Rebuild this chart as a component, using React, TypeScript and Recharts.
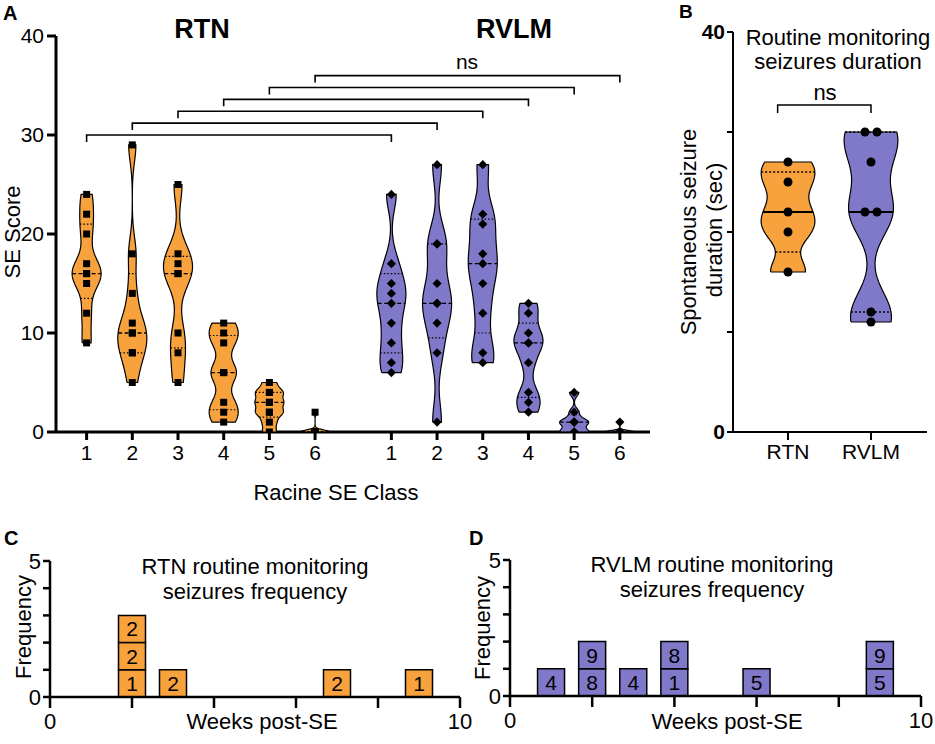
import React from 'react';
import { ComposedChart, Scatter, XAxis, YAxis, BarChart, Bar, LabelList } from 'recharts';

const ORANGE = '#F8A23E';
const PURPLE = '#8079C9';
const FONT = '"Liberation Sans", Arial, Helvetica, sans-serif';

// ---------- Panel A data ----------
const raceClasses = [1, 2, 3, 4, 5, 6];
const rtnScores = [
  [24, 22, 20, 17, 16, 16, 15, 12, 9],
  [29, 18, 14, 11, 10, 10, 8, 8, 5],
  [25, 18, 17, 16, 16, 10, 8, 5],
  [11, 10, 9, 6, 6, 3, 2, 1],
  [5, 4, 4, 3, 3, 2, 2, 1, 0],
  [2, 0, 0, 0, 0, 0, 0, 0],
];
const rvlmScores = [
  [24, 17, 15, 14, 13, 11, 9, 7, 6],
  [27, 19, 19, 15, 13, 13, 11, 8, 1],
  [27, 22, 21, 18, 17, 15, 12, 8, 7],
  [13, 12, 10, 9, 9, 7, 4, 3, 2],
  [4, 2, 1, 1, 1, 0, 0, 0],
  [1, 0, 0, 0, 0, 0, 0, 0],
];
const rvlmOffset = 6.67;
const bracketLevels = [30, 31.2, 32.4, 33.6, 34.8, 36];
const scoreTicks = [0, 10, 20, 30, 40];

// ---------- Panel B data ----------
const groupsB = ['RTN', 'RVLM'];
const durationB = [
  [27, 25, 22, 20, 16],
  [30, 30, 27, 22, 22, 12, 11],
];
const durationTicks = [0, 10, 20, 30, 40];
const durationTickLabels = ['0', '', '', '', '40'];
const bracketB = { from: 0.875, to: 2, level: 32.7 };

// ---------- Panel C / D data ----------
const cWeeks = [2, 3, 7, 9];
const cIds = [[1, 2, 2], [2], [2], [1]];
const dWeeks = [1, 2, 3, 4, 6, 9];
const dIds = [[4], [8, 9], [4], [1, 8], [5], [5, 9]];
const weekTicks = [0, 2, 4, 6, 8, 10];
const weekTickLabels = ['0', '', '', '', '', '10'];
const freqTicks = [0, 1, 2, 3, 4, 5];
const freqTickLabels = ['0', '', '', '', '', '5'];

// ---------- helpers ----------
function quantile(sorted: number[], q: number) {
  const n = sorted.length;
  let p = q * (n + 1);
  if (p < 1) p = 1;
  if (p > n) p = n;
  const lo = Math.floor(p);
  const frac = p - lo;
  const a = sorted[lo - 1];
  const b = sorted[Math.min(lo, n - 1)];
  return a + frac * (b - a);
}

function bandwidth(sorted: number[]) {
  const n = sorted.length;
  const mean = sorted.reduce((s, v) => s + v, 0) / n;
  const sd = Math.sqrt(sorted.reduce((s, v) => s + (v - mean) ** 2, 0) / (n - 1));
  const iqr = quantile(sorted, 0.75) - quantile(sorted, 0.25);
  let s = Math.min(sd, iqr / 1.34);
  if (!(s > 0)) s = sd;
  return Math.max(0.5 * 0.9 * s * Math.pow(n, -0.2), 0.15);
}

type P = { x: number; y: number };

function makeViolin(vals: number[], pos: number, halfW: number, steps = 90) {
  const sorted = [...vals].sort((a, b) => a - b);
  const lo = sorted[0];
  const hi = sorted[sorted.length - 1];
  const h = bandwidth(sorted);
  const dens = (y: number) => sorted.reduce((s, v) => s + Math.exp(-0.5 * ((y - v) / h) ** 2), 0);
  const ys: number[] = [];
  for (let i = 0; i <= steps; i++) ys.push(lo + ((hi - lo) * i) / steps);
  const ds = ys.map(dens);
  const dmax = Math.max(...ds);
  const w = (y: number) => halfW * Math.min(1, dens(y) / dmax);
  const left: P[] = ys.map((y, i) => ({ x: pos - (halfW * ds[i]) / dmax, y }));
  const right: P[] = ys.map((y, i) => ({ x: pos + (halfW * ds[i]) / dmax, y })).reverse();
  const outline = [...left, ...right, left[0]];
  const seg = (q: number): P[] => [
    { x: pos - w(q), y: q },
    { x: pos + w(q), y: q },
  ];
  return {
    outline,
    median: seg(quantile(sorted, 0.5)),
    quartiles: [seg(quantile(sorted, 0.25)), seg(quantile(sorted, 0.75))],
  };
}

const none = () => <g />;
const square = (p: any) => <rect x={p.cx - 3.5} y={p.cy - 3.5} width={7} height={7} fill="#000" />;
const diamond = (p: any) => {
  const r = 4.6;
  return (
    <polygon
      points={`${p.cx},${p.cy - r} ${p.cx + r},${p.cy} ${p.cx},${p.cy + r} ${p.cx - r},${p.cy}`}
      fill="#000"
    />
  );
};
const dot = (p: any) => <circle cx={p.cx} cy={p.cy} r={4.5} fill="#000" />;

function violinSeries(
  key: string,
  vals: number[],
  pos: number,
  halfW: number,
  fill: string,
  medianLine: any,
  quartLine: any,
  marker: any,
  points: P[]
) {
  const v = makeViolin(vals, pos, halfW);
  return [
    <Scatter
      key={key + 'o'}
      data={v.outline}
      shape={none}
      line={{ fill, stroke: '#000', strokeWidth: 1.2 }}
      lineType="joint"
      isAnimationActive={false}
    />,
    ...v.quartiles.map((q, i) => (
      <Scatter
        key={key + 'q' + i}
        data={q}
        shape={none}
        line={{ fill: 'none', stroke: '#000', ...quartLine }}
        lineType="joint"
        isAnimationActive={false}
      />
    )),
    <Scatter
      key={key + 'm'}
      data={v.median}
      shape={none}
      line={{ fill: 'none', stroke: '#000', ...medianLine }}
      lineType="joint"
      isAnimationActive={false}
    />,
    <Scatter key={key + 'p'} data={points} shape={marker} isAnimationActive={false} />,
  ];
}

function bracketSeries(key: string, from: number, to: number, level: number, drop: number, sw: number) {
  const pts: P[] = [
    { x: from, y: level - drop },
    { x: from, y: level },
    { x: to, y: level },
    { x: to, y: level - drop },
  ];
  return (
    <Scatter
      key={key}
      data={pts}
      shape={none}
      line={{ fill: 'none', stroke: '#000', strokeWidth: sw }}
      lineType="joint"
      isAnimationActive={false}
    />
  );
}

// ---------- Panel A ----------
function PanelA() {
  const rtnPos = raceClasses;
  const rvlmPos = raceClasses.map((c) => c + rvlmOffset);
  const ticks = [...rtnPos, ...rvlmPos];
  const tickLabels = [...raceClasses, ...raceClasses].map(String);
  const halfW = 0.318;
  const medianLine = { strokeWidth: 1.3, strokeDasharray: '4 2.5' };
  const quartLine = { strokeWidth: 1.2, strokeDasharray: '1.5 2' };
  const series: any[] = [];
  rtnScores.forEach((vals, i) => {
    series.push(
      ...violinSeries('rtn' + i, vals, rtnPos[i], halfW, ORANGE, medianLine, quartLine, square,
        vals.map((v) => ({ x: rtnPos[i], y: v })))
    );
  });
  rvlmScores.forEach((vals, i) => {
    series.push(
      ...violinSeries('rvlm' + i, vals, rvlmPos[i], halfW, PURPLE, medianLine, quartLine, diamond,
        vals.map((v) => ({ x: rvlmPos[i], y: v })))
    );
  });
  bracketLevels.forEach((lvl, i) => {
    series.push(bracketSeries('br' + i, rtnPos[i], rvlmPos[i], lvl, 0.7, 1.6));
  });
  return (
    <div style={{ position: 'absolute', left: 0, top: 0 }}>
      <ComposedChart width={660} height={510} margin={{ top: 36, right: 10, bottom: 48, left: 0 }}>
        <XAxis
          type="number"
          dataKey="x"
          domain={[0.33, 13.33]}
          allowDataOverflow
          ticks={ticks}
          interval={0}
          tickFormatter={(_v: any, i: number) => tickLabels[i]}
          height={30}
          axisLine={{ stroke: '#000', strokeWidth: 3 }}
          tickLine={{ stroke: '#000', strokeWidth: 3 }}
          tickSize={8}
          tickMargin={5}
          tick={{ fill: '#000', fontSize: 21, fontFamily: FONT }}
        />
        <YAxis
          type="number"
          dataKey="y"
          domain={[0, 40]}
          allowDataOverflow
          ticks={scoreTicks}
          interval={0}
          width={56}
          axisLine={{ stroke: '#000', strokeWidth: 3 }}
          tickLine={{ stroke: '#000', strokeWidth: 3 }}
          tickSize={9}
          tickMargin={3}
          tick={{ fill: '#000', fontSize: 21, fontFamily: FONT }}
        />
        {series}
      </ComposedChart>
    </div>
  );
}

// ---------- Panel B ----------
function PanelB() {
  const pos = [1, 2];
  const halfW = 0.324;
  const medianLine = { strokeWidth: 2 };
  const quartLine = { strokeWidth: 1.3, strokeDasharray: '2 2' };
  const series: any[] = [];
  durationB.forEach((vals, i) => {
    const counts: Record<number, number> = {};
    vals.forEach((v) => (counts[v] = (counts[v] || 0) + 1));
    const seen: Record<number, number> = {};
    const pts = vals.map((v) => {
      const k = seen[v] || 0;
      seen[v] = k + 1;
      const shift = counts[v] > 1 ? (k - (counts[v] - 1) / 2) * 0.145 : 0;
      return { x: pos[i] + shift, y: v };
    });
    series.push(
      ...violinSeries('b' + i, vals, pos[i], halfW, i === 0 ? ORANGE : PURPLE, medianLine, quartLine, dot, pts)
    );
  });
  series.push(bracketSeries('bb', bracketB.from, bracketB.to, bracketB.level, 0.8, 1.5));
  return (
    <div style={{ position: 'absolute', left: 640, top: 0 }}>
      <ComposedChart width={295} height={480} margin={{ top: 32, right: 8, bottom: 18, left: 0 }}>
        <XAxis
          type="number"
          dataKey="x"
          domain={[0.337, 2.675]}
          allowDataOverflow
          ticks={pos}
          interval={0}
          tickFormatter={(_v: any, i: number) => groupsB[i]}
          height={30}
          axisLine={{ stroke: '#000', strokeWidth: 2 }}
          tickLine={{ stroke: '#000', strokeWidth: 2 }}
          tickSize={8}
          tickMargin={4}
          tick={{ fill: '#000', fontSize: 21, fontFamily: FONT }}
        />
        <YAxis
          type="number"
          dataKey="y"
          domain={[0, 40]}
          allowDataOverflow
          ticks={durationTicks}
          interval={0}
          tickFormatter={(_v: any, i: number) => durationTickLabels[i]}
          width={93}
          axisLine={{ stroke: '#000', strokeWidth: 2 }}
          tickLine={{ stroke: '#000', strokeWidth: 2 }}
          tickSize={6}
          tickMargin={2}
          tick={{ fill: '#000', fontSize: 21, fontWeight: 'bold', fontFamily: FONT }}
        />
        {series}
      </ComposedChart>
    </div>
  );
}

// ---------- Panels C / D ----------
function buildRows(weeks: number[], ids: number[][]) {
  return weeks.map((w, i) => {
    const r: any = { week: w };
    ids[i].forEach((id, k) => {
      r['s' + k] = 1;
      r['id' + k] = id;
    });
    return r;
  });
}

function FreqPanel({
  left,
  width,
  weeks,
  ids,
  fill,
  yWidth,
  marginTop,
  marginRight,
}: {
  left: number;
  width: number;
  weeks: number[];
  ids: number[][];
  fill: string;
  yWidth: number;
  marginTop: number;
  marginRight: number;
}) {
  const rows = buildRows(weeks, ids);
  const depth = Math.max(...ids.map((s) => s.length));
  const levels = Array.from({ length: depth }, (_, k) => k);
  return (
    <div style={{ position: 'absolute', left, top: 500 }}>
      <BarChart
        width={width}
        height={244}
        data={rows}
        margin={{ top: marginTop, right: marginRight, bottom: 244 - marginTop - 136 - 30, left: 0 }}
      >
        <XAxis
          type="number"
          dataKey="week"
          domain={[0, 10]}
          allowDataOverflow
          ticks={weekTicks}
          interval={0}
          tickFormatter={(_v: any, i: number) => weekTickLabels[i]}
          height={30}
          axisLine={{ stroke: '#000', strokeWidth: 2.5 }}
          tickLine={{ stroke: '#000', strokeWidth: 2.5 }}
          tickSize={11}
          tickMargin={5}
          tick={{ fill: '#000', fontSize: 22, fontFamily: FONT }}
        />
        <YAxis
          type="number"
          domain={[0, 5]}
          allowDataOverflow
          ticks={freqTicks}
          interval={0}
          tickFormatter={(_v: any, i: number) => freqTickLabels[i]}
          width={yWidth}
          axisLine={{ stroke: '#000', strokeWidth: 2.5 }}
          tickLine={{ stroke: '#000', strokeWidth: 2.5 }}
          tickSize={7}
          tickMargin={2}
          tick={{ fill: '#000', fontSize: 22, fontFamily: FONT }}
        />
        {levels.map((k) => (
          <Bar
            key={'s' + k}
            dataKey={'s' + k}
            stackId="a"
            fill={fill}
            stroke="#000"
            strokeWidth={1.5}
            barSize={27}
            isAnimationActive={false}
          >
            <LabelList dataKey={'id' + k} position="center" fill="#000" fontSize={21} fontFamily={FONT} />
          </Bar>
        ))}
      </BarChart>
    </div>
  );
}

// ---------- Text overlay ----------
const T = ({ x, y, size, bold, anchor = 'middle', rotate, children }: any) => (
  <text
    x={rotate ? 0 : x}
    y={rotate ? 0 : y}
    transform={rotate ? `translate(${x},${y}) rotate(-90)` : undefined}
    fontSize={size}
    fontWeight={bold ? 'bold' : 'normal'}
    fontFamily={FONT}
    textAnchor={anchor}
    fill="#000"
  >
    {children}
  </text>
);

function Overlay() {
  return (
    <svg
      width={935}
      height={744}
      style={{ position: 'absolute', left: 0, top: 0, pointerEvents: 'none' }}
    >
      <T x={3} y={20} size={20} bold anchor="start">A</T>
      <T x={202} y={38} size={27} bold>RTN</T>
      <T x={514} y={38} size={27} bold>RVLM</T>
      <T x={467} y={69} size={21}>ns</T>
      <T x={20} y={232} size={22} rotate>SE Score</T>
      <T x={336} y={500} size={22}>Racine SE Class</T>

      <T x={679} y={18} size={19} bold anchor="start">B</T>
      <T x={838} y={45} size={22}>Routine monitoring</T>
      <T x={838} y={69} size={22}>seizures duration</T>
      <T x={825} y={100} size={22}>ns</T>
      <T x={696} y={232} size={22} rotate>Spontaneous seizure</T>
      <T x={722} y={230} size={22} rotate>duration (sec)</T>

      <T x={4} y={545} size={20} bold anchor="start">C</T>
      <T x={255} y={574} size={22}>RTN routine monitoring</T>
      <T x={255} y={599} size={22}>seizures frequency</T>
      <T x={31} y={627} size={22} rotate>Frequency</T>
      <T x={262} y={729} size={22}>Weeks post-SE</T>

      <T x={469} y={545} size={20} bold anchor="start">D</T>
      <T x={712} y={572} size={22}>RVLM routine monitoring</T>
      <T x={712} y={597} size={22}>seizures frequency</T>
      <T x={490} y={628} size={22} rotate>Frequency</T>
      <T x={727} y={729} size={22}>Weeks post-SE</T>
    </svg>
  );
}

export default function App() {
  return (
    <div style={{ position: 'absolute', left: 0, top: 0, width: 935, height: 744, background: '#fff', overflow: 'hidden' }}>
      <PanelA />
      <PanelB />
      <FreqPanel left={0} width={490} weeks={cWeeks} ids={cIds} fill={ORANGE} yWidth={50} marginTop={61} marginRight={30} />
      <FreqPanel left={465} width={470} weeks={dWeeks} ids={dIds} fill={PURPLE} yWidth={45} marginTop={60} marginRight={14} />
      <Overlay />
    </div>
  );
}
